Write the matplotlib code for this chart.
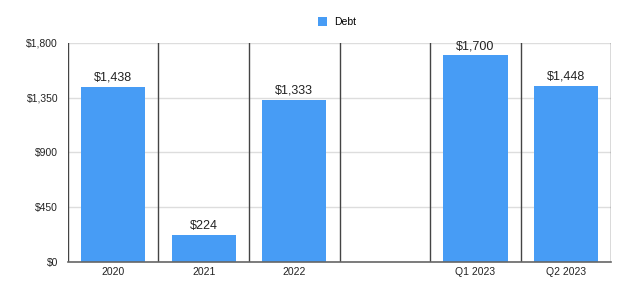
import matplotlib
matplotlib.use("Agg")
import matplotlib.pyplot as plt
from matplotlib.ticker import FuncFormatter

plt.rcParams['font.family'] = ['Liberation Sans', 'DejaVu Sans']

categories = ["2020", "2021", "2022", "", "Q1 2023", "Q2 2023"]
debt = [1438, 224, 1333, None, 1700, 1448]
yticks = [0, 450, 900, 1350, 1800]

fig = plt.figure(figsize=(6.4, 3.02), dpi=100)
ax = fig.add_axes([0.106, 0.133, 0.849, 0.725])

xs = [i for i, v in enumerate(debt) if v is not None]
vals = [v for v in debt if v is not None]
bars = ax.bar(xs, vals, width=0.71, color="#479cf5", label="Debt", zorder=3)
for x, v in zip(xs, vals):
    ax.text(x, v + 25, f"${v:,}", ha="center", va="bottom", fontsize=9, color="#222222")

ax.set_xlim(-0.5, len(categories) - 0.5)
ax.set_ylim(0, 1800)
ax.set_xticks(range(len(categories)))
ax.set_xticklabels(categories)
ax.set_yticks(yticks)
ax.yaxis.set_major_formatter(FuncFormatter(lambda v, p: f"${v:,.0f}"))
ax.tick_params(length=0, labelsize=7.5, colors="#222222")
ax.tick_params(axis="x", pad=4)
ax.tick_params(axis="y", pad=7)

ax.grid(axis="y", color="#dddddd", linewidth=1, zorder=0)
for i in range(len(categories) + 1):
    ax.axvline(i - 0.5, color="#444444", linewidth=1, zorder=4)
for s in ["top", "left", "right"]:
    ax.spines[s].set_visible(False)
ax.spines["bottom"].set_color("#666666")
ax.spines["bottom"].set_linewidth(1.2)
ax.spines["bottom"].set_zorder(5)

fig.legend(handles=[bars], loc="upper center", bbox_to_anchor=(0.527, 0.975),
           frameon=False, fontsize=7.5, handlelength=0.9, handleheight=0.9,
           handletextpad=0.7)

fig.savefig("out.png", dpi=100)
